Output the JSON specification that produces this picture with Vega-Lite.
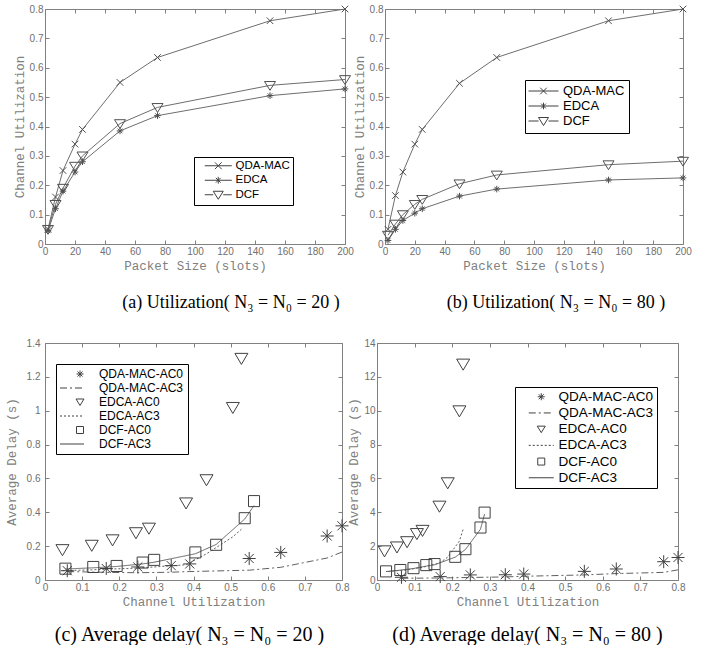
{
  "$schema": "https://vega.github.io/schema/vega-lite/v6.json",
  "background": "white",
  "padding": {"left": 4, "top": 3, "right": 0, "bottom": 0},
  "config": {
    "view": {"stroke": "#808080", "strokeWidth": 1},
    "axis": {"grid": false, "domain": false, "ticks": true, "tickSize": -4, "tickColor": "#808080", "labelColor": "#707070", "labelFont": "Liberation Sans", "labelFontSize": 10, "labelPadding": 6, "labelFlush": false, "labelOverlap": false, "titleFont": "Liberation Mono", "titleFontSize": 12.5, "titleFontWeight": "normal", "titleColor": "#808080", "titlePadding": 3},
    "title": {"font": "Liberation Serif", "fontSize": 18, "fontWeight": "normal", "color": "#000000"},
    "legend": {"title": null, "strokeColor": "#000000", "fillColor": "#ffffff", "labelFont": "Liberation Sans", "labelColor": "#000000", "symbolStrokeWidth": 1, "symbolFillColor": "transparent", "symbolStrokeColor": "#404040", "symbolSize": 100}
  },
  "datasets": {
    "a": [
      {"x": 2, "y": 0.05, "s": "QDA-MAC"}, {"x": 7, "y": 0.16, "s": "QDA-MAC"}, {"x": 12, "y": 0.25, "s": "QDA-MAC"}, {"x": 20, "y": 0.34, "s": "QDA-MAC"}, {"x": 25, "y": 0.39, "s": "QDA-MAC"}, {"x": 50, "y": 0.55, "s": "QDA-MAC"}, {"x": 75, "y": 0.635, "s": "QDA-MAC"}, {"x": 150, "y": 0.76, "s": "QDA-MAC"}, {"x": 200, "y": 0.8, "s": "QDA-MAC"},
      {"x": 2, "y": 0.045, "s": "EDCA"}, {"x": 7, "y": 0.12, "s": "EDCA"}, {"x": 12, "y": 0.18, "s": "EDCA"}, {"x": 20, "y": 0.245, "s": "EDCA"}, {"x": 25, "y": 0.28, "s": "EDCA"}, {"x": 50, "y": 0.385, "s": "EDCA"}, {"x": 75, "y": 0.437, "s": "EDCA"}, {"x": 150, "y": 0.505, "s": "EDCA"}, {"x": 200, "y": 0.528, "s": "EDCA"},
      {"x": 2, "y": 0.05, "s": "DCF"}, {"x": 7, "y": 0.135, "s": "DCF"}, {"x": 12, "y": 0.19, "s": "DCF"}, {"x": 20, "y": 0.265, "s": "DCF"}, {"x": 25, "y": 0.3, "s": "DCF"}, {"x": 50, "y": 0.41, "s": "DCF"}, {"x": 75, "y": 0.465, "s": "DCF"}, {"x": 150, "y": 0.54, "s": "DCF"}, {"x": 200, "y": 0.56, "s": "DCF"}
    ],
    "b": [
      {"x": 2, "y": 0.05, "s": "QDA-MAC"}, {"x": 7, "y": 0.165, "s": "QDA-MAC"}, {"x": 12, "y": 0.245, "s": "QDA-MAC"}, {"x": 20, "y": 0.34, "s": "QDA-MAC"}, {"x": 25, "y": 0.39, "s": "QDA-MAC"}, {"x": 50, "y": 0.547, "s": "QDA-MAC"}, {"x": 75, "y": 0.635, "s": "QDA-MAC"}, {"x": 150, "y": 0.76, "s": "QDA-MAC"}, {"x": 200, "y": 0.8, "s": "QDA-MAC"},
      {"x": 2, "y": 0.012, "s": "EDCA"}, {"x": 7, "y": 0.05, "s": "EDCA"}, {"x": 12, "y": 0.08, "s": "EDCA"}, {"x": 20, "y": 0.105, "s": "EDCA"}, {"x": 25, "y": 0.12, "s": "EDCA"}, {"x": 50, "y": 0.163, "s": "EDCA"}, {"x": 75, "y": 0.187, "s": "EDCA"}, {"x": 150, "y": 0.218, "s": "EDCA"}, {"x": 200, "y": 0.225, "s": "EDCA"},
      {"x": 2, "y": 0.03, "s": "DCF"}, {"x": 7, "y": 0.068, "s": "DCF"}, {"x": 12, "y": 0.1, "s": "DCF"}, {"x": 20, "y": 0.135, "s": "DCF"}, {"x": 25, "y": 0.152, "s": "DCF"}, {"x": 50, "y": 0.205, "s": "DCF"}, {"x": 75, "y": 0.235, "s": "DCF"}, {"x": 150, "y": 0.27, "s": "DCF"}, {"x": 200, "y": 0.282, "s": "DCF"}
    ],
    "c": [
      {"x": 0.06, "y": 0.055, "s": "QDA-MAC-AC0"}, {"x": 0.165, "y": 0.068, "s": "QDA-MAC-AC0"}, {"x": 0.25, "y": 0.077, "s": "QDA-MAC-AC0"}, {"x": 0.34, "y": 0.085, "s": "QDA-MAC-AC0"}, {"x": 0.39, "y": 0.095, "s": "QDA-MAC-AC0"}, {"x": 0.55, "y": 0.127, "s": "QDA-MAC-AC0"}, {"x": 0.635, "y": 0.163, "s": "QDA-MAC-AC0"}, {"x": 0.76, "y": 0.26, "s": "QDA-MAC-AC0"}, {"x": 0.8, "y": 0.32, "s": "QDA-MAC-AC0"},
      {"x": 0.06, "y": 0.05, "s": "QDA-MAC-AC3"}, {"x": 0.165, "y": 0.045, "s": "QDA-MAC-AC3"}, {"x": 0.25, "y": 0.043, "s": "QDA-MAC-AC3"}, {"x": 0.34, "y": 0.046, "s": "QDA-MAC-AC3"}, {"x": 0.39, "y": 0.05, "s": "QDA-MAC-AC3"}, {"x": 0.55, "y": 0.058, "s": "QDA-MAC-AC3"}, {"x": 0.635, "y": 0.075, "s": "QDA-MAC-AC3"}, {"x": 0.76, "y": 0.13, "s": "QDA-MAC-AC3"}, {"x": 0.8, "y": 0.165, "s": "QDA-MAC-AC3"},
      {"x": 0.047, "y": 0.18, "s": "EDCA-AC0"}, {"x": 0.126, "y": 0.206, "s": "EDCA-AC0"}, {"x": 0.182, "y": 0.238, "s": "EDCA-AC0"}, {"x": 0.245, "y": 0.28, "s": "EDCA-AC0"}, {"x": 0.28, "y": 0.307, "s": "EDCA-AC0"}, {"x": 0.38, "y": 0.456, "s": "EDCA-AC0"}, {"x": 0.435, "y": 0.593, "s": "EDCA-AC0"}, {"x": 0.506, "y": 1.02, "s": "EDCA-AC0"}, {"x": 0.529, "y": 1.31, "s": "EDCA-AC0"},
      {"x": 0.047, "y": 0.055, "s": "EDCA-AC3"}, {"x": 0.126, "y": 0.06, "s": "EDCA-AC3"}, {"x": 0.182, "y": 0.065, "s": "EDCA-AC3"}, {"x": 0.245, "y": 0.07, "s": "EDCA-AC3"}, {"x": 0.28, "y": 0.075, "s": "EDCA-AC3"}, {"x": 0.38, "y": 0.09, "s": "EDCA-AC3"}, {"x": 0.435, "y": 0.155, "s": "EDCA-AC3"}, {"x": 0.506, "y": 0.255, "s": "EDCA-AC3"}, {"x": 0.529, "y": 0.3, "s": "EDCA-AC3"},
      {"x": 0.055, "y": 0.067, "s": "DCF-AC0"}, {"x": 0.13, "y": 0.077, "s": "DCF-AC0"}, {"x": 0.193, "y": 0.083, "s": "DCF-AC0"}, {"x": 0.263, "y": 0.103, "s": "DCF-AC0"}, {"x": 0.294, "y": 0.119, "s": "DCF-AC0"}, {"x": 0.405, "y": 0.163, "s": "DCF-AC0"}, {"x": 0.461, "y": 0.208, "s": "DCF-AC0"}, {"x": 0.538, "y": 0.365, "s": "DCF-AC0"}, {"x": 0.563, "y": 0.466, "s": "DCF-AC0"},
      {"x": 0.055, "y": 0.065, "s": "DCF-AC3"}, {"x": 0.13, "y": 0.072, "s": "DCF-AC3"}, {"x": 0.193, "y": 0.08, "s": "DCF-AC3"}, {"x": 0.263, "y": 0.095, "s": "DCF-AC3"}, {"x": 0.294, "y": 0.105, "s": "DCF-AC3"}, {"x": 0.405, "y": 0.155, "s": "DCF-AC3"}, {"x": 0.461, "y": 0.21, "s": "DCF-AC3"}, {"x": 0.538, "y": 0.36, "s": "DCF-AC3"}, {"x": 0.563, "y": 0.44, "s": "DCF-AC3"}
    ],
    "d": [
      {"x": 0.065, "y": 0.16, "s": "QDA-MAC-AC0"}, {"x": 0.168, "y": 0.2, "s": "QDA-MAC-AC0"}, {"x": 0.248, "y": 0.3, "s": "QDA-MAC-AC0"}, {"x": 0.341, "y": 0.31, "s": "QDA-MAC-AC0"}, {"x": 0.39, "y": 0.35, "s": "QDA-MAC-AC0"}, {"x": 0.551, "y": 0.51, "s": "QDA-MAC-AC0"}, {"x": 0.636, "y": 0.65, "s": "QDA-MAC-AC0"}, {"x": 0.762, "y": 1.08, "s": "QDA-MAC-AC0"}, {"x": 0.8, "y": 1.33, "s": "QDA-MAC-AC0"},
      {"x": 0.065, "y": 0.1, "s": "QDA-MAC-AC3"}, {"x": 0.168, "y": 0.12, "s": "QDA-MAC-AC3"}, {"x": 0.248, "y": 0.15, "s": "QDA-MAC-AC3"}, {"x": 0.341, "y": 0.18, "s": "QDA-MAC-AC3"}, {"x": 0.39, "y": 0.22, "s": "QDA-MAC-AC3"}, {"x": 0.551, "y": 0.3, "s": "QDA-MAC-AC3"}, {"x": 0.636, "y": 0.38, "s": "QDA-MAC-AC3"}, {"x": 0.762, "y": 0.45, "s": "QDA-MAC-AC3"}, {"x": 0.8, "y": 0.6, "s": "QDA-MAC-AC3"},
      {"x": 0.02, "y": 1.73, "s": "EDCA-AC0"}, {"x": 0.053, "y": 1.96, "s": "EDCA-AC0"}, {"x": 0.08, "y": 2.27, "s": "EDCA-AC0"}, {"x": 0.106, "y": 2.75, "s": "EDCA-AC0"}, {"x": 0.121, "y": 2.94, "s": "EDCA-AC0"}, {"x": 0.166, "y": 4.37, "s": "EDCA-AC0"}, {"x": 0.188, "y": 5.75, "s": "EDCA-AC0"}, {"x": 0.219, "y": 10.0, "s": "EDCA-AC0"}, {"x": 0.229, "y": 12.76, "s": "EDCA-AC0"},
      {"x": 0.03, "y": 0.5, "s": "EDCA-AC3"}, {"x": 0.053, "y": 0.55, "s": "EDCA-AC3"}, {"x": 0.08, "y": 0.6, "s": "EDCA-AC3"}, {"x": 0.106, "y": 0.7, "s": "EDCA-AC3"}, {"x": 0.121, "y": 0.75, "s": "EDCA-AC3"}, {"x": 0.166, "y": 1.0, "s": "EDCA-AC3"}, {"x": 0.188, "y": 1.35, "s": "EDCA-AC3"}, {"x": 0.219, "y": 2.3, "s": "EDCA-AC3"}, {"x": 0.229, "y": 3.0, "s": "EDCA-AC3"},
      {"x": 0.024, "y": 0.51, "s": "DCF-AC0"}, {"x": 0.062, "y": 0.59, "s": "DCF-AC0"}, {"x": 0.097, "y": 0.7, "s": "DCF-AC0"}, {"x": 0.131, "y": 0.88, "s": "DCF-AC0"}, {"x": 0.153, "y": 0.94, "s": "DCF-AC0"}, {"x": 0.208, "y": 1.37, "s": "DCF-AC0"}, {"x": 0.235, "y": 1.82, "s": "DCF-AC0"}, {"x": 0.275, "y": 3.1, "s": "DCF-AC0"}, {"x": 0.286, "y": 3.98, "s": "DCF-AC0"},
      {"x": 0.024, "y": 0.5, "s": "DCF-AC3"}, {"x": 0.062, "y": 0.58, "s": "DCF-AC3"}, {"x": 0.097, "y": 0.68, "s": "DCF-AC3"}, {"x": 0.131, "y": 0.82, "s": "DCF-AC3"}, {"x": 0.153, "y": 0.9, "s": "DCF-AC3"}, {"x": 0.208, "y": 1.35, "s": "DCF-AC3"}, {"x": 0.235, "y": 1.8, "s": "DCF-AC3"}, {"x": 0.275, "y": 3.0, "s": "DCF-AC3"}, {"x": 0.286, "y": 3.9, "s": "DCF-AC3"}
    ]
  },
  "spacing": 25,
  "resolve": {"scale": {"shape": "independent", "strokeDash": "independent"}, "legend": {"shape": "independent", "strokeDash": "independent"}},
  "vconcat": [
    {
      "bounds": "flush",
      "spacing": 40,
      "resolve": {"scale": {"shape": "independent", "strokeDash": "independent"}, "legend": {"shape": "independent", "strokeDash": "independent"}},
      "hconcat": [
        {
          "width": 300, "height": 235,
          "data": {"name": "a"},
          "title": {"text": "(a) Utilization( N₃ = N₀ = 20 )", "orient": "bottom", "anchor": "middle", "dx": 36, "offset": 22},
          "resolve": {"scale": {"shape": "independent"}, "legend": {"shape": "independent"}},
          "layer": [
            {
              "mark": {"type": "line", "color": "#6e6e6e", "strokeWidth": 1},
              "encoding": {
                "x": {"field": "x", "type": "quantitative", "scale": {"domain": [0, 200], "nice": false}, "axis": {"orient": "bottom", "values": [0, 20, 40, 60, 80, 100, 120, 140, 160, 180, 200], "title": "Packet Size (slots)"}},
                "y": {"field": "y", "type": "quantitative", "scale": {"domain": [0, 0.8], "nice": false}, "axis": {"orient": "left", "values": [0, 0.1, 0.2, 0.3, 0.4, 0.5, 0.6, 0.7, 0.8], "format": "~g", "title": "Channel Utilization"}},
                "detail": {"field": "s", "type": "nominal"}
              }
            },
            {
              "mark": {"type": "point", "filled": false, "color": "#505050", "strokeWidth": 1, "opacity": 1, "size": 121},
              "encoding": {
                "x": {"field": "x", "type": "quantitative", "axis": {"orient": "top", "values": [0, 20, 40, 60, 80, 100, 120, 140, 160, 180, 200], "labels": false, "title": null}},
                "y": {"field": "y", "type": "quantitative", "axis": {"orient": "right", "values": [0, 0.1, 0.2, 0.3, 0.4, 0.5, 0.6, 0.7, 0.8], "labels": false, "title": null}},
                "shape": {"field": "s", "type": "nominal", "scale": {"domain": ["QDA-MAC", "EDCA", "DCF"], "range": ["M-0.6,-0.6L0.6,0.6M-0.6,0.6L0.6,-0.6", "M-0.6,0L0.6,0M0,-0.6L0,0.6M-0.42,-0.42L0.42,0.42M-0.42,0.42L0.42,-0.42", "M-1,-0.7L1,-0.7L0,0.9Z"]}, "legend": null}
              }
            },
            {
              "transform": [{"filter": "datum.x < -1000"}],
              "mark": {"type": "point", "filled": false, "color": "#404040", "strokeWidth": 1, "opacity": 1},
              "encoding": {
                "shape": {
                  "field": "s", "type": "nominal",
                  "scale": {"domain": ["QDA-MAC", "EDCA", "DCF"], "range": ["M-2.7,0L2.7,0M-0.68,-0.68L0.68,0.68M-0.68,0.68L0.68,-0.68", "M-2.7,0L2.7,0M0,-0.68L0,0.68M-0.48,-0.48L0.48,0.48M-0.48,0.48L0.48,-0.48", "M-2.7,0L-1,0M1,0L2.7,0M-1,-0.7L1,-0.7L0,0.9Z"]},
                  "legend": {"orient": "none", "legendX": 149, "legendY": 148, "padding": 3, "labelFontSize": 11.5, "labelOffset": 11.5, "rowPadding": 1.5, "symbolSize": 100, "symbolOffset": 15.5, "labelExpr": "datum.label + '         '"}
                }
              }
            }
          ]
        },
        {
          "width": 298, "height": 235,
          "data": {"name": "b"},
          "title": {"text": "(b) Utilization( N₃ = N₀ = 80 )", "orient": "bottom", "anchor": "middle", "dx": 22, "offset": 22},
          "resolve": {"scale": {"shape": "independent"}, "legend": {"shape": "independent"}},
          "layer": [
            {
              "mark": {"type": "line", "color": "#6e6e6e", "strokeWidth": 1},
              "encoding": {
                "x": {"field": "x", "type": "quantitative", "scale": {"domain": [0, 200], "nice": false}, "axis": {"orient": "bottom", "values": [0, 20, 40, 60, 80, 100, 120, 140, 160, 180, 200], "title": "Packet Size (slots)"}},
                "y": {"field": "y", "type": "quantitative", "scale": {"domain": [0, 0.8], "nice": false}, "axis": {"orient": "left", "values": [0, 0.1, 0.2, 0.3, 0.4, 0.5, 0.6, 0.7, 0.8], "format": "~g", "title": "Channel Utilization"}},
                "detail": {"field": "s", "type": "nominal"}
              }
            },
            {
              "mark": {"type": "point", "filled": false, "color": "#505050", "strokeWidth": 1, "opacity": 1, "size": 121},
              "encoding": {
                "x": {"field": "x", "type": "quantitative", "axis": {"orient": "top", "values": [0, 20, 40, 60, 80, 100, 120, 140, 160, 180, 200], "labels": false, "title": null}},
                "y": {"field": "y", "type": "quantitative", "axis": {"orient": "right", "values": [0, 0.1, 0.2, 0.3, 0.4, 0.5, 0.6, 0.7, 0.8], "labels": false, "title": null}},
                "shape": {"field": "s", "type": "nominal", "scale": {"domain": ["QDA-MAC", "EDCA", "DCF"], "range": ["M-0.6,-0.6L0.6,0.6M-0.6,0.6L0.6,-0.6", "M-0.6,0L0.6,0M0,-0.6L0,0.6M-0.42,-0.42L0.42,0.42M-0.42,0.42L0.42,-0.42", "M-1,-0.7L1,-0.7L0,0.9Z"]}, "legend": null}
              }
            },
            {
              "transform": [{"filter": "datum.x < -1000"}],
              "mark": {"type": "point", "filled": false, "color": "#404040", "strokeWidth": 1, "opacity": 1},
              "encoding": {
                "shape": {
                  "field": "s", "type": "nominal",
                  "scale": {"domain": ["QDA-MAC", "EDCA", "DCF"], "range": ["M-3,0L3,0M-0.66,-0.66L0.66,0.66M-0.66,0.66L0.66,-0.66", "M-3,0L3,0M0,-0.66L0,0.66M-0.47,-0.47L0.47,0.47M-0.47,0.47L0.47,-0.47", "M-3,0L-1,0M1,0L3,0M-1,-0.7L1,-0.7L0,0.9Z"]},
                  "legend": {"orient": "none", "legendX": 140, "legendY": 71, "padding": 4.5, "labelFontSize": 13, "labelOffset": 13, "rowPadding": 1, "symbolSize": 100, "symbolOffset": 7.5}
                }
              }
            }
          ]
        }
      ]
    },
    {
      "bounds": "flush",
      "spacing": 35,
      "resolve": {"scale": {"shape": "independent", "strokeDash": "independent"}, "legend": {"shape": "independent", "strokeDash": "independent"}},
      "hconcat": [
        {
          "width": 297, "height": 237,
          "data": {"name": "c"},
          "title": {"text": "(c) Average delay( N₃ = N₀ = 20 )", "orient": "bottom", "anchor": "middle", "dx": -4, "offset": 17, "fontSize": 20},
          "resolve": {"scale": {"shape": "independent"}, "legend": {"shape": "independent"}},
          "layer": [
            {
              "transform": [{"filter": {"field": "s", "oneOf": ["QDA-MAC-AC3", "EDCA-AC3", "DCF-AC3"]}}],
              "mark": {"type": "line", "color": "#606060", "strokeWidth": 1},
              "encoding": {
                "x": {"field": "x", "type": "quantitative", "scale": {"domain": [0, 0.8], "nice": false}, "axis": {"orient": "bottom", "values": [0, 0.1, 0.2, 0.3, 0.4, 0.5, 0.6, 0.7, 0.8], "format": "~g", "title": "Channel Utilization"}},
                "y": {"field": "y", "type": "quantitative", "scale": {"domain": [0, 1.4], "nice": false}, "axis": {"orient": "left", "values": [0, 0.2, 0.4, 0.6, 0.8, 1, 1.2, 1.4], "format": "~g", "title": "Average Delay (s)", "titlePadding": 8, "labelPadding": 9}},
                "strokeDash": {"field": "s", "type": "nominal", "scale": {"domain": ["QDA-MAC-AC3", "EDCA-AC3", "DCF-AC3"], "range": [[7, 3, 2, 3], [2, 2], [1, 0]]}, "legend": null}
              }
            },
            {
              "transform": [{"filter": {"field": "s", "oneOf": ["QDA-MAC-AC0", "EDCA-AC0", "DCF-AC0"]}}],
              "mark": {"type": "point", "filled": false, "color": "#404040", "strokeWidth": 1, "opacity": 1, "size": 169},
              "encoding": {
                "x": {"field": "x", "type": "quantitative", "axis": {"orient": "top", "values": [0, 0.1, 0.2, 0.3, 0.4, 0.5, 0.6, 0.7, 0.8], "labels": false, "title": null}},
                "y": {"field": "y", "type": "quantitative", "axis": {"orient": "right", "values": [0, 0.2, 0.4, 0.6, 0.8, 1, 1.2, 1.4], "labels": false, "title": null}},
                "shape": {"field": "s", "type": "nominal", "scale": {"domain": ["QDA-MAC-AC0", "EDCA-AC0", "DCF-AC0"], "range": ["M-1,0L1,0M0,-1L0,1M-0.7,-0.7L0.7,0.7M-0.7,0.7L0.7,-0.7", "M-1,-0.75L1,-0.75L0,0.95Z", "M-0.85,-0.85L0.85,-0.85L0.85,0.85L-0.85,0.85Z"]}, "legend": null}
              }
            },
            {
              "transform": [{"filter": "datum.x < -1000"}],
              "mark": {"type": "point", "filled": false, "color": "#404040", "strokeWidth": 1, "opacity": 1},
              "encoding": {
                "shape": {
                  "field": "s", "type": "nominal",
                  "scale": {"domain": ["QDA-MAC-AC0", "QDA-MAC-AC3", "EDCA-AC0", "EDCA-AC3", "DCF-AC0", "DCF-AC3"], "range": [
                    "M0.9,0L2.3,0M1.6,-0.7L1.6,0.7M1.1,-0.5L2.1,0.5M1.1,0.5L2.1,-0.5",
                    "M-2.4,0L-1,0M-0.4,0L0,0M0.6,0L2,0",
                    "M0.8,-0.6L2.4,-0.6L1.6,0.7Z",
                    "M-2.4,0L-2,0M-1.6,0L-1.2,0M-0.8,0L-0.4,0M0,0L0.4,0M0.8,0L1.2,0M1.6,0L2,0",
                    "M0.9,-0.7L2.3,-0.7L2.3,0.7L0.9,0.7Z",
                    "M-2.4,0L2.4,0"]},
                  "legend": {"orient": "none", "legendX": 11, "legendY": 21, "padding": 4, "labelFontSize": 12, "labelOffset": 21, "rowPadding": 2, "symbolSize": 100, "symbolOffset": 6}
                }
              }
            }
          ]
        },
        {
          "width": 301, "height": 237,
          "data": {"name": "d"},
          "title": {"text": "(d) Average delay( N₃ = N₀ = 80 )", "orient": "bottom", "anchor": "middle", "dx": 0, "offset": 17, "fontSize": 20},
          "resolve": {"scale": {"shape": "independent"}, "legend": {"shape": "independent"}},
          "layer": [
            {
              "transform": [{"filter": {"field": "s", "oneOf": ["QDA-MAC-AC3", "EDCA-AC3", "DCF-AC3"]}}],
              "mark": {"type": "line", "color": "#606060", "strokeWidth": 1},
              "encoding": {
                "x": {"field": "x", "type": "quantitative", "scale": {"domain": [0, 0.8], "nice": false}, "axis": {"orient": "bottom", "values": [0, 0.1, 0.2, 0.3, 0.4, 0.5, 0.6, 0.7, 0.8], "format": "~g", "title": "Channel Utilization"}},
                "y": {"field": "y", "type": "quantitative", "scale": {"domain": [0, 14], "nice": false}, "axis": {"orient": "left", "values": [0, 2, 4, 6, 8, 10, 12, 14], "format": "~g", "title": "Average Delay (s)"}},
                "strokeDash": {"field": "s", "type": "nominal", "scale": {"domain": ["QDA-MAC-AC3", "EDCA-AC3", "DCF-AC3"], "range": [[7, 3, 2, 3], [2, 2], [1, 0]]}, "legend": null}
              }
            },
            {
              "transform": [{"filter": {"field": "s", "oneOf": ["QDA-MAC-AC0", "EDCA-AC0", "DCF-AC0"]}}],
              "mark": {"type": "point", "filled": false, "color": "#404040", "strokeWidth": 1, "opacity": 1, "size": 169},
              "encoding": {
                "x": {"field": "x", "type": "quantitative", "axis": {"orient": "top", "values": [0, 0.1, 0.2, 0.3, 0.4, 0.5, 0.6, 0.7, 0.8], "labels": false, "title": null}},
                "y": {"field": "y", "type": "quantitative", "axis": {"orient": "right", "values": [0, 2, 4, 6, 8, 10, 12, 14], "labels": false, "title": null}},
                "shape": {"field": "s", "type": "nominal", "scale": {"domain": ["QDA-MAC-AC0", "EDCA-AC0", "DCF-AC0"], "range": ["M-1,0L1,0M0,-1L0,1M-0.7,-0.7L0.7,0.7M-0.7,0.7L0.7,-0.7", "M-1,-0.75L1,-0.75L0,0.95Z", "M-0.85,-0.85L0.85,-0.85L0.85,0.85L-0.85,0.85Z"]}, "legend": null}
              }
            },
            {
              "transform": [{"filter": "datum.x < -1000"}],
              "mark": {"type": "point", "filled": false, "color": "#404040", "strokeWidth": 1, "opacity": 1},
              "encoding": {
                "shape": {
                  "field": "s", "type": "nominal",
                  "scale": {"domain": ["QDA-MAC-AC0", "QDA-MAC-AC3", "EDCA-AC0", "EDCA-AC3", "DCF-AC0", "DCF-AC3"], "range": [
                    "M-0.7,0L0.7,0M0,-0.7L0,0.7M-0.5,-0.5L0.5,0.5M-0.5,0.5L0.5,-0.5",
                    "M-2.5,0L-1.1,0M-0.5,0L-0.1,0M0.5,0L1.9,0",
                    "M-0.8,-0.6L0.8,-0.6L0,0.7Z",
                    "M-2.5,0L-2.1,0M-1.7,0L-1.3,0M-0.9,0L-0.5,0M-0.1,0L0.3,0M0.7,0L1.1,0M1.5,0L1.9,0M2.3,0L2.5,0",
                    "M-0.7,-0.7L0.7,-0.7L0.7,0.7L-0.7,0.7Z",
                    "M-2.5,0L2.5,0"]},
                  "legend": {"orient": "none", "legendX": 138, "legendY": 44, "padding": 3, "labelFontSize": 13.5, "labelOffset": 10.5, "rowPadding": 1.2, "symbolSize": 100, "symbolOffset": 16.5}
                }
              }
            }
          ]
        }
      ]
    }
  ]
}
